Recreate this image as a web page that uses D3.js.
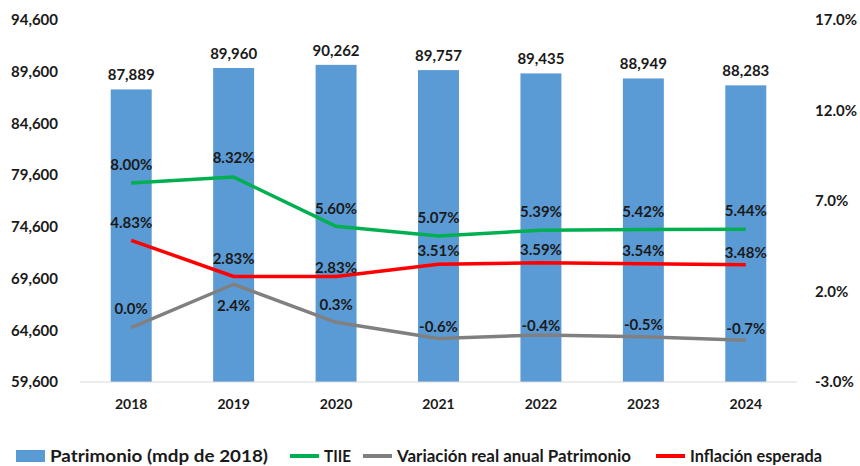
<!DOCTYPE html>
<html>
<head>
<meta charset="utf-8">
<script src="https://cdn.jsdelivr.net/npm/d3@7"></script>
<style>
  body { margin: 0; background: #fff; }
  text { font-family: Lato, "Open Sans", sans-serif; font-weight: bold; fill: #1a1a1a; }
</style>
</head>
<body>
<div id="chart"></div>
<script>
// Patrimonio vs TIIE, inflacion y variacion real

const years = ["2018", "2019", "2020", "2021", "2022", "2023", "2024"];
const patrimonio = [87889, 89960, 90262, 89757, 89435, 88949, 88283];
const tiie = [8.00, 8.32, 5.60, 5.07, 5.39, 5.42, 5.44];
const inflacion = [4.83, 2.83, 2.83, 3.51, 3.59, 3.54, 3.48];
const variacion = [0.0, 2.4, 0.3, -0.6, -0.4, -0.5, -0.7];
const leftTicks = [59600, 64600, 69600, 74600, 79600, 84600, 89600, 94600];
const rightTicks = [-3, 2, 7, 12, 17];

// label offsets (px, above the point is negative)
const tiieDy = [-18, -19, -18, -18, -18, -18, -18];
const inflDy = [-18, -18, -9, -13, -13, -13, -12];
const varDy = [-19, 21, -18, -12, -9, -12, -12];

const W = 860, H = 466;
const m = { top: 20, right: 63, bottom: 84, left: 80 };

const svg = d3.select("#chart")
  .append("svg")
  .attr("width", W)
  .attr("height", H);

const x = d3.scaleBand()
  .domain(years)
  .range([m.left, W - m.right])
  .paddingInner(0.6)
  .paddingOuter(0.3);

const yL = d3.scaleLinear().domain([59600, 94600]).range([H - m.bottom, m.top]);
const yR = d3.scaleLinear().domain([-3, 17]).range([H - m.bottom, m.top]);

const fmtN = d3.format(",");
const cx = d => x(d) + x.bandwidth() / 2;

// left axis
svg.append("g")
  .attr("transform", `translate(${m.left - 19},0)`)
  .call(d3.axisLeft(yL).tickValues(leftTicks).tickFormat(fmtN).tickSize(0))
  .call(g => g.select(".domain").remove())
  .call(g => g.selectAll("text").attr("font-size", 15).attr("fill", "#1a1a1a")
    .style("font-family", "Lato, sans-serif").style("font-weight", "bold"));

// right axis
svg.append("g")
  .attr("transform", `translate(${W - 48},0)`)
  .call(d3.axisRight(yR).tickValues(rightTicks).tickFormat(d => d.toFixed(1) + "%").tickSize(0))
  .call(g => g.select(".domain").remove())
  .call(g => g.selectAll("text").attr("font-size", 15).attr("fill", "#1a1a1a")
    .style("font-family", "Lato, sans-serif").style("font-weight", "bold"));

// bars
svg.append("g")
  .selectAll("rect")
  .data(patrimonio)
  .join("rect")
    .attr("x", (d, i) => x(years[i]))
    .attr("y", d => yL(d))
    .attr("width", x.bandwidth())
    .attr("height", d => yL(59600) - yL(d))
    .attr("fill", "#5B9BD5");

svg.append("g")
  .selectAll("text")
  .data(patrimonio)
  .join("text")
    .attr("x", (d, i) => cx(years[i]))
    .attr("y", d => yL(d) - 9)
    .attr("text-anchor", "middle")
    .attr("font-size", 15)
    .text(d => fmtN(d));

// baseline
svg.append("line")
  .attr("x1", m.left).attr("x2", W - m.right)
  .attr("y1", yL(59600)).attr("y2", yL(59600))
  .attr("stroke", "#D9D9D9").attr("stroke-width", 1);

// x labels
svg.append("g")
  .selectAll("text")
  .data(years)
  .join("text")
    .attr("x", d => cx(d))
    .attr("y", H - m.bottom + 27)
    .attr("text-anchor", "middle")
    .attr("font-size", 14)
    .text(d => d);

// lines
const series = [
  { vals: tiie, color: "#00B050", dy: tiieDy, fmt: d => d.toFixed(2) + "%" },
  { vals: variacion, color: "#808080", dy: varDy, fmt: d => d.toFixed(1) + "%" },
  { vals: inflacion, color: "#FF0000", dy: inflDy, fmt: d => d.toFixed(2) + "%" }
];

const line = d3.line()
  .x((d, i) => cx(years[i]))
  .y(d => yR(d));

series.forEach(s => {
  svg.append("path")
    .datum(s.vals)
    .attr("fill", "none")
    .attr("stroke", s.color)
    .attr("stroke-width", 3.5)
    .attr("stroke-linejoin", "round")
    .attr("d", line);
});

series.forEach(s => {
  svg.append("g")
    .selectAll("text")
    .data(s.vals)
    .join("text")
      .attr("x", (d, i) => cx(years[i]))
      .attr("y", (d, i) => yR(d) + s.dy[i])
      .attr("dy", "0.35em")
      .attr("text-anchor", "middle")
      .attr("font-size", 15)
      .text(s.fmt);
});

// legend
const legend = [
  { name: "Patrimonio (mdp de 2018)", color: "#5B9BD5", type: "rect", x: 16, w: 218 },
  { name: "TIIE", color: "#00B050", type: "line", x: 290, w: 27 },
  { name: "Variación real anual Patrimonio", color: "#808080", type: "line", x: 363, w: 234 },
  { name: "Inflación esperada", color: "#FF0000", type: "line", x: 656, w: 132 }
];

const lg = svg.append("g").attr("transform", "translate(0,456)");
legend.forEach(l => {
  if (l.type === "rect") {
    lg.append("rect").attr("x", l.x).attr("y", -6).attr("width", 29).attr("height", 12).attr("fill", l.color);
  } else {
    lg.append("line").attr("x1", l.x).attr("x2", l.x + 29).attr("y1", 0).attr("y2", 0)
      .attr("stroke", l.color).attr("stroke-width", 4);
  }
  lg.append("text")
    .attr("x", l.x + 34)
    .attr("dy", "0.35em")
    .attr("font-size", 17)
    .attr("textLength", l.w)
    .attr("lengthAdjust", "spacingAndGlyphs")
    .text(l.name);
});
</script>
</body>
</html>
